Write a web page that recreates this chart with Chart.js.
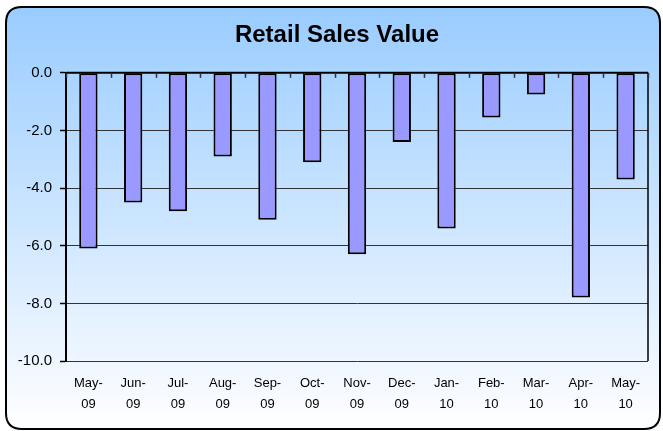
<!DOCTYPE html>
<html>
<head>
<meta charset="utf-8">
<script src="https://cdn.jsdelivr.net/npm/chart.js@4"></script>
<style>
html,body{margin:0;padding:0;background:#fff;}
#wrap{width:663px;height:431px;}
</style>
</head>
<body>
<div id="wrap"><canvas id="c" width="663" height="431"></canvas></div>
<script>
const categories = [["May-","09"],["Jun-","09"],["Jul-","09"],["Aug-","09"],["Sep-","09"],["Oct-","09"],["Nov-","09"],["Dec-","09"],["Jan-","10"],["Feb-","10"],["Mar-","10"],["Apr-","10"],["May-","10"]];
const salesValues = [-6.1, -4.5, -4.8, -2.9, -5.1, -3.1, -6.3, -2.4, -5.4, -1.55, -0.75, -7.8, -3.7];
const yTicks = [0, -2, -4, -6, -8, -10];
const chartTitle = "Retail Sales Value";

const FONT = "'Liberation Sans', Arial, sans-serif";

const backgroundPlugin = {
  id: 'bgFrame',
  beforeDraw(chart) {
    const ctx = chart.ctx;
    const x = 6, y = 7, w = 654, h = 422, r = 16;
    ctx.save();
    const g = ctx.createLinearGradient(0, y, 0, y + h);
    g.addColorStop(0, '#99CCFF');
    g.addColorStop(1, '#FFFFFF');
    ctx.beginPath();
    ctx.moveTo(x + r, y);
    ctx.lineTo(x + w - r, y);
    ctx.quadraticCurveTo(x + w, y, x + w, y + r);
    ctx.lineTo(x + w, y + h - r);
    ctx.quadraticCurveTo(x + w, y + h, x + w - r, y + h);
    ctx.lineTo(x + r, y + h);
    ctx.quadraticCurveTo(x, y + h, x, y + h - r);
    ctx.lineTo(x, y + r);
    ctx.quadraticCurveTo(x, y, x + r, y);
    ctx.closePath();
    ctx.fillStyle = g;
    ctx.fill();
    ctx.lineWidth = 2;
    ctx.strokeStyle = '#000';
    ctx.stroke();
    ctx.restore();
  },
  afterDraw(chart) {
    const ctx = chart.ctx;
    const a = chart.chartArea;
    const ys = chart.scales.y;
    const xs = chart.scales.x;
    const y0 = ys.getPixelForValue(0);
    ctx.save();
    ctx.strokeStyle = '#000';
    ctx.lineWidth = 1.5;
    ctx.beginPath();
    ctx.moveTo(a.right, a.top);
    ctx.lineTo(a.right, a.bottom);
    ctx.stroke();
    ctx.lineWidth = 2;
    ctx.beginPath();
    ctx.moveTo(a.left, y0);
    ctx.lineTo(a.right, y0);
    ctx.stroke();
    ctx.lineWidth = 1.5;
    ctx.strokeStyle = '#333';
    for (let i = 0; i <= categories.length; i++) {
      const px = Math.round((xs.getPixelForValue(i - 0.5))) + 0.5;
      ctx.beginPath();
      ctx.moveTo(px, y0);
      ctx.lineTo(px, y0 + 5);
      ctx.stroke();
    }
    ctx.restore();
  }
};

new Chart(document.getElementById('c'), {
  type: 'bar',
  data: {
    labels: categories,
    datasets: [{
      data: salesValues,
      backgroundColor: '#9999FF',
      borderColor: '#000000',
      borderWidth: 2,
      borderSkipped: false,
      categoryPercentage: 1.0,
      barPercentage: 0.41
    }]
  },
  options: {
    responsive: false,
    animation: false,
    devicePixelRatio: 1,
    layout: { padding: { left: 11, right: 0, top: 0, bottom: 0 } },
    plugins: {
      legend: { display: false },
      tooltip: { enabled: false },
      title: {
        display: true,
        text: chartTitle,
        color: '#000',
        font: { family: FONT, size: 24, weight: 'bold' },
        padding: { top: 21, bottom: 23 }
      }
    },
    scales: {
      x: {
        grid: { display: false, drawTicks: false },
        border: { display: false },
        ticks: {
          color: '#000',
          font: { family: FONT, size: 13, lineHeight: 1.6 },
          padding: 12,
          maxRotation: 0,
          autoSkip: false
        },
        afterFit(scale) { scale.height = 70; }
      },
      y: {
        min: -10,
        max: 0,
        afterBuildTicks(scale) { scale.ticks = yTicks.map(v => ({ value: v })); },
        ticks: {
          color: '#000',
          font: { family: FONT, size: 15 },
          padding: 8,
          callback: v => Number(v).toFixed(1)
        },
        grid: {
          color: '#333',
          lineWidth: 1,
          tickLength: 6,
          tickColor: '#000',
          tickWidth: 1.5
        },
        border: { display: true, color: '#000', width: 2 },
        afterFit(scale) { scale.width = 55; }
      },
      yr: {
        position: 'right',
        display: true,
        min: -10,
        max: 0,
        grid: { display: false, drawTicks: false },
        border: { display: false },
        ticks: { display: false },
        afterFit(scale) { scale.width = 15; }
      }
    }
  },
  plugins: [backgroundPlugin]
});
</script>
</body>
</html>
